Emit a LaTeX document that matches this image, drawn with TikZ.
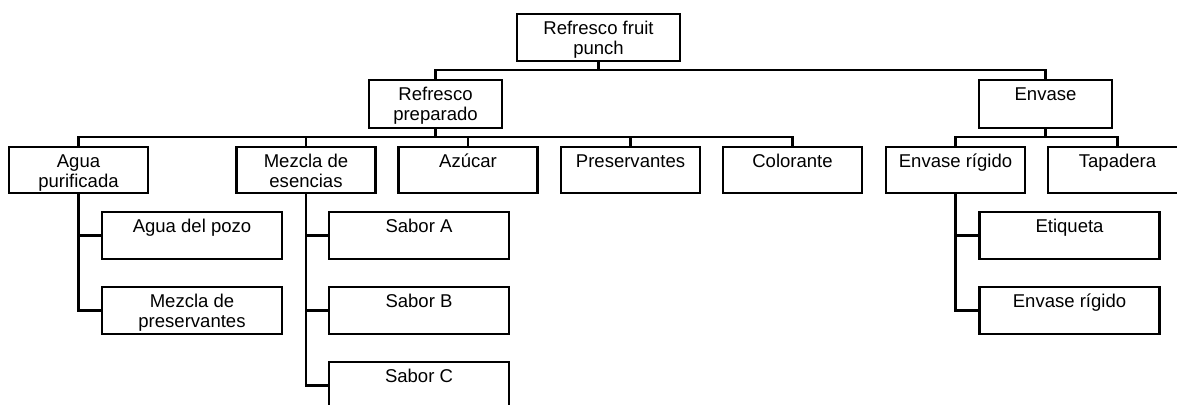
\documentclass[tikz,border=0pt]{standalone}
\usepackage{fontspec}
\setmainfont{Liberation Sans}
\usetikzlibrary{calc}
\tikzset{
  bx/.style={draw=black, line width=1.9pt, fill=white, inner sep=0pt},
  topbox/.style={bx, minimum width=122.25pt, minimum height=35.25pt},
  midbox/.style={bx, minimum width=99.75pt, minimum height=36pt},
  lvtwo/.style={bx, minimum width=104.25pt, minimum height=34.5pt},
  lvthree/.style={bx, minimum width=135pt, minimum height=35.25pt},
  txt/.style={inner sep=0pt, align=center, font=\fontsize{13.9}{15}\selectfont},
  conn/.style={draw=black, line width=1.6pt}
}
\newcommand\mkbox[5]{%
  \node[#2] (#1) at (#3,#4) {};
  \node[txt, anchor=north] (#1-t) at ([yshift=-5.25pt]#1.north) {#5};
}
\begin{document}
\begin{tikzpicture}[x=0.75pt, y=-0.75pt]
\clip (0,0) rectangle (1177,404);
\fill[white] (0,0) rectangle (1177,404);

% coordinates of branch points
\coordinate (b1) at (598.5,70);
\coordinate (b2) at (435.5,137);
\coordinate (b3) at (1045.5,137);

% boxes
\mkbox{top}{topbox}{598.5}{37.5}{\strut Refresco fruit\\\strut punch}
\mkbox{rp}{midbox}{435.5}{104}{\strut Refresco\\\strut preparado}
\mkbox{env}{midbox}{1045.5}{104}{\strut Envase}

\mkbox{ap}{lvtwo}{78.5}{170}{\strut Agua\\\strut purificada}
\mkbox{me}{lvtwo}{306}{170}{\strut Mezcla de\\\strut esencias}
\mkbox{az}{lvtwo}{468}{170}{\strut Azúcar}
\mkbox{pr}{lvtwo}{630.5}{170}{\strut Preservantes}
\mkbox{co}{lvtwo}{792.5}{170}{\strut Colorante}
\mkbox{er}{lvtwo}{955.5}{170}{\strut Envase rígido}
\mkbox{ta}{lvtwo}{1117.5}{170}{\strut Tapadera}

\mkbox{agp}{lvthree}{192}{235.5}{\strut Agua del pozo}
\mkbox{mp}{lvthree}{192}{310.5}{\strut Mezcla de\\\strut preservantes}
\mkbox{sa}{lvthree}{419}{235.5}{\strut Sabor A}
\mkbox{sb}{lvthree}{419}{310.5}{\strut Sabor B}
\mkbox{sc}{lvthree}{419}{385.5}{\strut Sabor C}
\mkbox{et}{lvthree}{1069.5}{235.5}{\strut Etiqueta}
\mkbox{er2}{lvthree}{1069.5}{310.5}{\strut Envase rígido}

% connectors
\draw[conn] (top.south) -- (b1);
\draw[conn] (rp.north) |- (b1) -| (env.north);

\draw[conn] (rp.south) -- (b2);
\draw[conn] (ap.north) |- (b2) -| (co.north);
\draw[conn] (me.north) -- (me.north |- b2);
\draw[conn] (az.north) -- (az.north |- b2);
\draw[conn] (pr.north) -- (pr.north |- b2);

\draw[conn] (env.south) -- (b3);
\draw[conn] (er.north) |- (b3) -| (ta.north);

\draw[conn] (ap.south) |- (mp.west);
\draw[conn] (ap.south |- agp.west) -- (agp.west);

\draw[conn] (me.south) |- (sc.west);
\draw[conn] (me.south |- sa.west) -- (sa.west);
\draw[conn] (me.south |- sb.west) -- (sb.west);

\draw[conn] (er.south) |- (er2.west);
\draw[conn] (er.south |- et.west) -- (et.west);
\end{tikzpicture}
\end{document}
